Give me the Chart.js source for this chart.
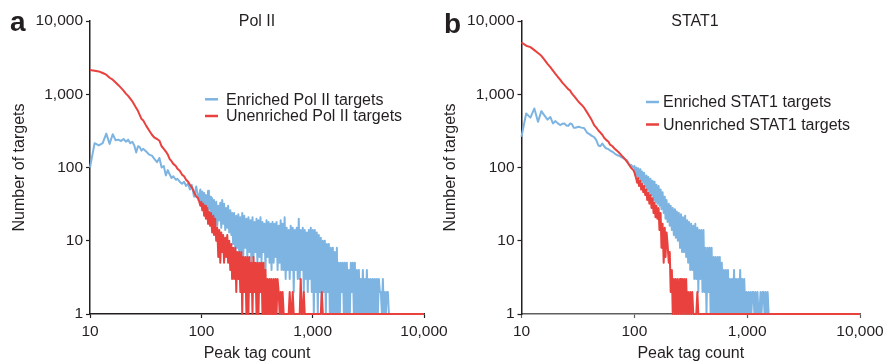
<!DOCTYPE html>
<html>
<head>
<meta charset="utf-8">
<script src="https://cdn.jsdelivr.net/npm/chart.js@4.4.1/dist/chart.umd.min.js"></script>
<style>
  html, body { margin: 0; padding: 0; background: #fff; }
  #wrap { position: relative; width: 883px; height: 363px; }
  canvas { position: absolute; left: 0; top: 0; }
</style>
</head>
<body>
<div id="wrap">
  <canvas id="polChart" width="883" height="363"></canvas>
  <canvas id="statChart" width="883" height="363"></canvas>
</div>
<script>
// peak tag counts (x), shared by both panels
const tagCounts = [
    10, 11, 12, 13, 14, 15, 16, 17, 18, 19,
    20, 21, 22, 23, 24, 25, 26, 27, 28, 29,
    30, 32, 34, 36, 38, 40, 42, 44, 46, 48,
    50, 52, 54, 56, 59, 61, 64, 67, 70, 73,
    76, 79, 82, 86, 90, 94, 98, 100, 102, 104,
    106, 108, 110, 113, 115, 117, 120, 122, 125, 128,
    130, 133, 136, 139, 142, 145, 148, 151, 154, 157,
    160, 164, 167, 171, 174, 178, 182, 186, 189, 193,
    197, 202, 206, 210, 215, 219, 224, 229, 233, 238,
    243, 248, 254, 259, 265, 270, 276, 282, 288, 294,
    300, 306, 313, 319, 326, 333, 340, 347, 354, 362,
    369, 377, 385, 393, 402, 410, 419, 427, 436, 446,
    455, 465, 474, 484, 495, 505, 516, 526, 537, 549,
    560, 572, 584, 596, 609, 622, 635, 648, 662, 676,
    690, 704, 719, 734, 750, 765, 781, 798, 815, 832,
    849, 867, 885, 904, 923, 942, 962, 982, 1003, 1024,
    1045, 1067, 1089, 1112, 1135, 1159, 1183, 1208, 1234, 1259,
    1286, 1313, 1340, 1368, 1397, 1426, 1456, 1487, 1518, 1550,
    1582, 1615, 1649, 1683, 1719, 1755, 1791, 1829, 1867, 1906,
    1946, 1987, 2028, 2071, 2114, 2158, 2203, 2249, 2296, 2344,
    2393, 2443, 2494, 2547, 2600, 2654, 2710, 2766, 2824, 2883,
    2943, 3005, 3068, 3132, 3197, 3264, 3332, 3402, 3473, 3546,
    3620, 3696, 3773, 3852, 3932, 4014, 4098, 4184, 4271, 4361,
    4452, 4545, 4640, 4737, 4836, 4937, 5040, 5145, 6000, 10000
];

// a: Pol II
const polEnriched = [
    100, 215, 200, 215, 290, 210, 285, 235, 240, 230,
    245, 225, 240, 215, 225, 200, 160, 195, 190, 170,
    180, 165, 150, 145, 130, 118, 135, 100, 105, 78,
    92, 80, 72, 76, 68, 70, 64, 60, 64, 56,
    60, 50, 58, 40, 55, 36, 50, 30, 47, 28,
    45, 26, 42, 25, 48, 27, 40, 24, 38, 20,
    36, 18, 34, 16, 30, 19, 33, 15, 36, 17,
    32, 14, 28, 15, 30, 13, 26, 12, 24, 9,
    24, 7, 22, 8, 23, 6, 21, 7, 24, 6,
    22, 8, 20, 6, 21, 7, 19, 5, 21, 6,
    18, 7, 20, 5, 19, 6, 21, 5, 18, 7,
    17, 4, 19, 6, 18, 5, 17, 4, 18, 5,
    17, 6, 18, 4, 16, 5, 19, 4, 17, 4,
    21, 3, 15, 4, 14, 3, 16, 4, 15, 2,
    14, 4, 15, 3, 20, 3, 14, 4, 15, 2,
    14, 3, 13, 2, 14, 3, 15, 2, 14, 1,
    14, 2, 13, 1, 12, 2, 11, 1, 10, 2,
    10, 1, 9, 2, 9, 1, 8, 1, 8, 1,
    7, 1, 8, 1, 5, 1, 5, 2, 5, 1,
    5, 1, 5, 1, 4, 1, 5, 2, 5, 1,
    5, 1, 4, 1, 4, 1, 3, 1, 4, 1,
    3, 1, 4, 1, 3, 1, 3, 1, 3, 1,
    3, 1, 3, 1, 3, 2, 2, 1, 3, 1,
    2, 1, 2, 2, 1, 1, null, null, null, null
];
const polUnenriched = [
    2140, 2100, 2050, 1950, 1850, 1680, 1580, 1450, 1330, 1220,
    1120, 1020, 950, 870, 800, 720, 650, 590, 520, 460,
    440, 370, 320, 280, 255, 245, 232, 195, 180, 165,
    150, 130, 122, 112, 105, 96, 90, 80, 76, 68,
    64, 58, 54, 46, 40, 38, 30, 34, 26, 32,
    22, 30, 20, 28, 17, 25, 16, 24, 13, 22,
    12, 20, 10, 15, 6, 14, 5, 13, 7, 12,
    5, 11, 6, 12, 5, 10, 4, 9, 3, 8,
    3, 8, 2, 7, 3, 7, 2, 7, 1, 6,
    2, 6, 1, 6, 1, 6, 2, 5, 1, 6,
    2, 5, 1, 5, 1, 5, 2, 5, 1, 5,
    1, 4, 1, 3, 1, 3, 1, 3, 1, 3,
    1, 3, 1, 3, 2, 1, 2, 1, 2, 1,
    1, 1, 1, 1, 1, 2, 1, 1, 2, 1,
    1, 1, 1, 1, 1, 1, 3, 1, 1, 2,
    1, 1, 1, 1, 1, 1, 1, 1, 1, 1,
    1, 1, 1, 1, 1, 1, 1, 2, 1, 1,
    1, 1, 1, 1, 1, 1, 1, 1, 1, 1,
    1, 1, 1, 1, 1, 1, 1, 1, 1, 1,
    1, 1, 1, 1, 1, 1, 1, 1, 1, 1,
    1, 1, 1, 1, 1, 1, 1, 1, 1, 1,
    1, 1, 1, 1, 1, 1, 1, 1, 1, 1,
    1, 1, 1, 1, 1, 1, 1, 1, 1, 1,
    1, 1, 1, 1, 1, 1, 1, 1, 1, 1
];

// b: STAT1
const statEnriched = [
    263, 547, 480, 640, 420, 589, 510, 450, 490, 400,
    430, 400, 380, 395, 400, 375, 370, 400, 390, 350,
    349, 360, 350, 343, 300, 285, 270, 260, 236, 200,
    195, 213, 195, 183, 178, 170, 164, 155, 148, 145,
    140, 135, 130, 126, 110, 108, 100, 105, 80, 100,
    76, 98, 70, 95, 66, 88, 62, 85, 55, 78,
    50, 74, 45, 70, 42, 66, 36, 64, 34, 58,
    32, 56, 30, 50, 27, 46, 24, 40, 20, 36,
    18, 32, 16, 30, 14, 28, 12, 27, 11, 25,
    10, 24, 8, 23, 7, 21, 7, 22, 6, 19,
    5, 18, 4, 17, 4, 16, 3, 17, 3, 15,
    2, 14, 3, 14, 2, 14, 2, 8, 1, 8,
    2, 8, 1, 8, 1, 6, 1, 6, 1, 6,
    1, 6, 1, 5, 1, 4, 1, 4, 1, 4,
    1, 3, 1, 3, 1, 4, 1, 3, 1, 3,
    1, 4, 1, 3, 1, 3, 1, 2, 1, 2,
    1, 2, 1, 2, 2, 1, 2, 1, 2, 1,
    1, 2, 1, 2, 2, 1, 2, 1, 2, 1,
    null, null, null, null, null, null, null, null, null, null,
    null, null, null, null, null, null, null, null, null, null,
    null, null, null, null, null, null, null, null, null, null,
    null, null, null, null, null, null, null, null, null, null,
    null, null, null, null, null, null, null, null, null, null,
    null, null, null, null, null, null, null, null, null, null
];
const statUnenriched = [
    5080, 4600, 4400, 4000, 3650, 3350, 2950, 2600, 2340, 2100,
    1900, 1720, 1580, 1440, 1340, 1250, 1170, 1120, 1020, 960,
    900, 790, 720, 650, 570, 500, 440, 380, 350, 320,
    300, 280, 255, 240, 225, 205, 195, 180, 170, 160,
    150, 140, 132, 120, 108, 98, 92, 86, 78, 70,
    62, 72, 56, 66, 50, 60, 46, 56, 42, 50,
    36, 45, 32, 42, 28, 38, 24, 33, 21, 30,
    20, 28, 14, 24, 8, 17, 5, 15, 6, 13,
    9, 5, 7, 2, 4, 1, 3, 1, 3, 1,
    3, 1, 3, 1, 3, 1, 3, 1, 3, 1,
    2, 1, 2, 1, 2, 1, 1, 1, 1, 2,
    1, 1, 1, 1, 1, 1, 1, 1, 1, 1,
    1, 1, 1, 1, 1, 1, 1, 1, 1, 1,
    1, 1, 1, 1, 1, 1, 1, 1, 1, 1,
    1, 1, 1, 1, 1, 1, 1, 1, 1, 1,
    1, 1, 1, 1, 1, 1, 1, 1, 1, 1,
    1, 1, 1, 1, 1, 1, 1, 1, 1, 1,
    1, 1, 1, 1, 1, 1, 1, 1, 1, 1,
    1, 1, 1, 1, 1, 1, 1, 1, 1, 1,
    1, 1, 1, 1, 1, 1, 1, 1, 1, 1,
    1, 1, 1, 1, 1, 1, 1, 1, 1, 1,
    1, 1, 1, 1, 1, 1, 1, 1, 1, 1,
    1, 1, 1, 1, 1, 1, 1, 1, 1, 1,
    1, 1, 1, 1, 1, 1, 1, 1, 1, 1
];

const xTicks = [10, 100, 1000, 10000];
const yTicks = [1, 10, 100, 1000, 10000];

const BLUE = '#7db4e2';
const RED = '#e8413e';
const TEXT = '#231f20';
const FONT = '"Liberation Sans", Arial, Helvetica, sans-serif';

function toPoints(values) {
    return tagCounts.map((t, i) => ({ x: t, y: values[i] }));
}

// panel letter, title and legend
const decor = {
    id: 'decor',
    afterDraw(chart, args, o) {
        const ctx = chart.ctx;
        ctx.save();
        ctx.fillStyle = TEXT;
        ctx.textBaseline = 'alphabetic';
        ctx.textAlign = 'left';
        ctx.font = 'bold 28px ' + FONT;
        ctx.fillText(o.letter, o.letterX, o.letterY);
        ctx.font = '16px ' + FONT;
        ctx.textAlign = 'center';
        ctx.fillText(o.title, o.titleX, 25.5);
        ctx.textAlign = 'left';
        const items = [chart.data.datasets[1], chart.data.datasets[0]];
        items.forEach((ds, i) => {
            ctx.strokeStyle = ds.borderColor;
            ctx.lineWidth = 2.5;
            ctx.beginPath();
            ctx.moveTo(o.legendX, o.lineY[i]);
            ctx.lineTo(o.legendX + 13, o.lineY[i]);
            ctx.stroke();
            ctx.fillText(ds.label, o.textX, o.baseY[i]);
        });
        ctx.restore();
    }
};

function makeChart(id, cfg) {
    // clip off so the runs at 1 sit over the x axis line
    const lineStyle = { borderWidth: 2, pointRadius: 0, tension: 0, borderJoinStyle: 'round', fill: false, clip: false };
    return new Chart(document.getElementById(id), {
        type: 'line',
        data: {
            datasets: [
                Object.assign({ label: cfg.labels[1], data: toPoints(cfg.unenriched), borderColor: RED }, lineStyle),
                Object.assign({ label: cfg.labels[0], data: toPoints(cfg.enriched), borderColor: BLUE }, lineStyle)
            ]
        },
        options: {
            responsive: false,
            animation: false,
            events: [],
            layout: { padding: { left: cfg.left - 90, right: 883 - cfg.right, top: 21, bottom: 0 } },
            plugins: {
                legend: { display: false },
                tooltip: { enabled: false },
                decor: cfg.decor
            },
            scales: {
                x: {
                    type: 'logarithmic',
                    min: 10,
                    max: 10000,
                    afterBuildTicks: s => { s.ticks = xTicks.map(v => ({ value: v })); },
                    afterFit: s => { s.height = 49; s.paddingLeft = 0; s.paddingRight = 0; },
                    border: { display: true, color: cfg.xAxisColor, width: 1.5, z: -1 },
                    grid: { drawOnChartArea: false, drawTicks: true, tickLength: 4, tickWidth: 1.2, tickColor: cfg.xAxisColor },
                    ticks: {
                        autoSkip: false, maxRotation: 0, padding: 4, color: TEXT,
                        font: { family: FONT, size: 15.5 },
                        callback: v => Number(v).toLocaleString('en-US')
                    },
                    title: {
                        display: true, text: 'Peak tag count', color: TEXT,
                        font: { family: FONT, size: 16, lineHeight: 1 },
                        padding: { top: 0, bottom: 1.5 }
                    }
                },
                y: {
                    type: 'logarithmic',
                    min: 1,
                    max: 10000,
                    afterBuildTicks: s => { s.ticks = yTicks.map(v => ({ value: v })); },
                    afterFit: s => { s.width = 90; s.paddingTop = 0; s.paddingBottom = 0; },
                    border: { display: true, color: TEXT, width: 1.5, z: -1 },
                    grid: { drawOnChartArea: false, drawTicks: true, tickLength: 4, tickWidth: 1.2, tickColor: TEXT },
                    ticks: {
                        autoSkip: false, padding: 3, color: TEXT,
                        font: { family: FONT, size: 15.5 },
                        callback: v => Number(v).toLocaleString('en-US')
                    },
                    title: {
                        display: true, text: 'Number of targets', color: TEXT,
                        font: { family: FONT, size: 16, lineHeight: 1 },
                        padding: { top: 11.5, bottom: 0 }
                    }
                }
            }
        },
        plugins: [decor]
    });
}

makeChart('polChart', {
    left: 90, right: 424,
    enriched: polEnriched, unenriched: polUnenriched,
    labels: ['Enriched Pol II targets', 'Unenriched Pol II targets'],
    xAxisColor: TEXT,
    decor: { letter: 'a', letterX: 10, letterY: 30.5, title: 'Pol II', titleX: 257,
             legendX: 205, textX: 226, lineY: [99.3, 116], baseY: [104.5, 121] }
});

makeChart('statChart', {
    left: 521.5, right: 860,
    enriched: statEnriched, unenriched: statUnenriched,
    labels: ['Enriched STAT1 targets', 'Unenriched STAT1 targets'],
    xAxisColor: '#5f5f5f',
    decor: { letter: 'b', letterX: 444, letterY: 33, title: 'STAT1', titleX: 695,
             legendX: 646, textX: 663, lineY: [102, 124.5], baseY: [106.7, 130] }
});
</script>
</body>
</html>
